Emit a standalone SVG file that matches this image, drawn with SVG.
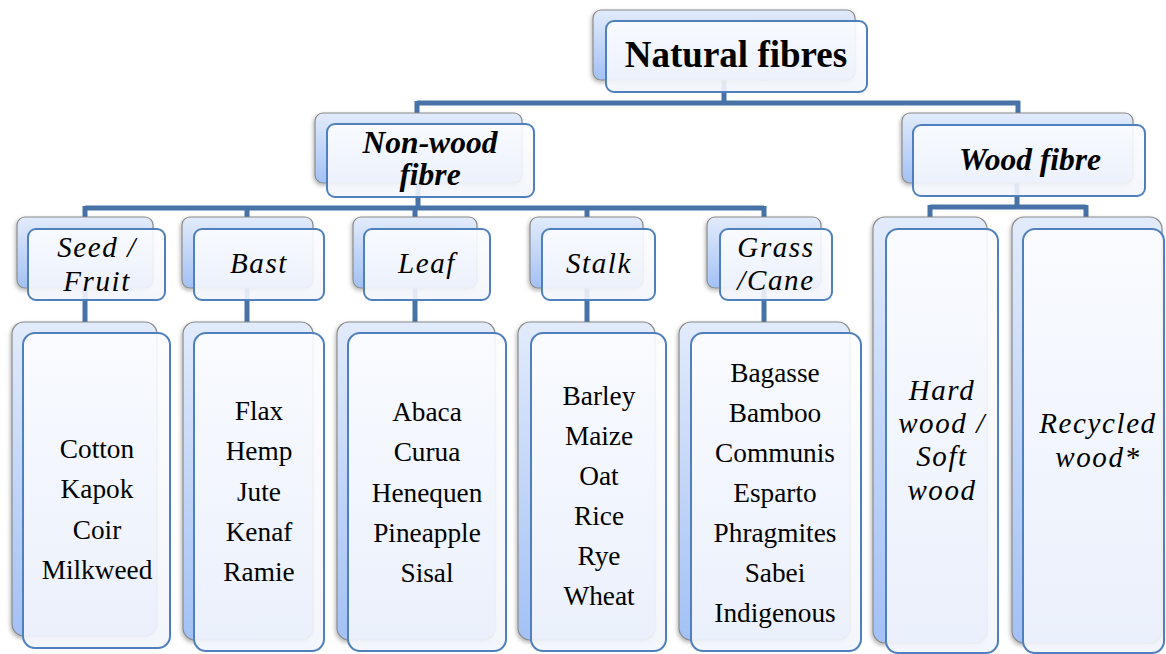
<svg xmlns="http://www.w3.org/2000/svg" width="1166" height="654" viewBox="0 0 1166 654">
  <defs>
    <linearGradient id="backFill" x1="0" y1="0" x2="0" y2="1">
      <stop offset="0" stop-color="#e2ebfb"/>
      <stop offset="1" stop-color="#a3c1f5"/>
    </linearGradient>
    <linearGradient id="frontFill" x1="0" y1="0" x2="0" y2="1">
      <stop offset="0" stop-color="#fcfdff"/>
      <stop offset="1" stop-color="#f2f5fc"/>
    </linearGradient>
    <filter id="shade" x="-20%" y="-20%" width="140%" height="140%">
      <feDropShadow dx="-1" dy="2" stdDeviation="2" flood-color="#000" flood-opacity="0.3"/>
    </filter>
  </defs>
  <style>
    .back { fill: url(#backFill); stroke: #8a8a8a; stroke-width: 1.2; filter: url(#shade); }
    .front { fill: url(#frontFill); fill-opacity: 0.9; stroke: #4f80bd; stroke-width: 2; }
    .conn { fill: none; stroke: #4672a8; stroke-width: 5; stroke-linejoin: miter; }
    .title { font-family: "Liberation Serif", "Times New Roman", serif; font-weight: bold; font-size: 37px; fill: #000; text-anchor: middle; }
    .group { font-family: "Liberation Serif", "Times New Roman", serif; font-weight: bold; font-style: italic; font-size: 31.5px; fill: #000; text-anchor: middle; }
    .cat { font-family: "Liberation Serif", "Times New Roman", serif; font-style: italic; font-size: 29px; letter-spacing: 1.6px; fill: #000; text-anchor: middle; }
    .item { font-family: "Liberation Serif", "Times New Roman", serif; font-size: 27.3px; fill: #000; text-anchor: middle; }
  </style>

  <rect width="1166" height="654" fill="#ffffff"/>

  <!-- connectors (behind the boxes) -->
  <g id="connectors">
    <path class="conn" d="M724 80 V103 M417 103 H1020 M417 101 V113 M1018 101 V113"/>
    <path class="conn" d="M418 183 V208 M85 208 H764 M85 206 V217 M247 206 V217 M415 206 V217 M587 206 V217 M764 206 V217"/>
    <path class="conn" d="M1017 183 V207 M930 207 H1086 M930 205 V217 M1086 205 V217"/>
    <path class="conn" d="M85 288 V322 M247 288 V322 M415 288 V322 M587 288 V322 M764 288 V322"/>
  </g>

  <!-- root -->
  <g id="natural-fibres">
    <rect class="back" x="593" y="10" width="262" height="70" rx="8"/>
    <rect class="front" x="606" y="21" width="261" height="71" rx="8"/>
    <text class="title" x="736" y="67">Natural fibres</text>
  </g>

  <!-- second level -->
  <g id="non-wood-fibre">
    <rect class="back" x="315" y="113" width="207" height="70" rx="8"/>
    <rect class="front" x="327" y="124" width="207" height="73" rx="8"/>
    <text class="group" x="430" y="153">Non-wood</text>
    <text class="group" x="430" y="185">fibre</text>
  </g>
  <g id="wood-fibre">
    <rect class="back" x="902" y="113" width="231" height="70" rx="8"/>
    <rect class="front" x="913" y="125" width="232" height="71" rx="8"/>
    <text class="group" x="1030" y="170">Wood fibre</text>
  </g>

  <!-- non-wood categories -->
  <g id="seed-fruit">
    <rect class="back" x="17" y="217" width="136" height="71" rx="8"/>
    <rect class="front" x="28" y="229" width="137" height="71" rx="8"/>
    <text class="cat" x="97" y="257">Seed /</text>
    <text class="cat" x="97" y="291">Fruit</text>
  </g>
  <g id="bast">
    <rect class="back" x="182" y="217" width="131" height="71" rx="8"/>
    <rect class="front" x="194" y="229" width="130" height="71" rx="8"/>
    <text class="cat" x="259" y="273">Bast</text>
  </g>
  <g id="leaf">
    <rect class="back" x="353" y="217" width="124" height="71" rx="8"/>
    <rect class="front" x="364" y="229" width="126" height="71" rx="8"/>
    <text class="cat" x="427" y="273">Leaf</text>
  </g>
  <g id="stalk">
    <rect class="back" x="530" y="217" width="113" height="71" rx="8"/>
    <rect class="front" x="542" y="229" width="113" height="71" rx="8"/>
    <text class="cat" x="599" y="273">Stalk</text>
  </g>
  <g id="grass-cane">
    <rect class="back" x="707" y="217" width="114" height="71" rx="8"/>
    <rect class="front" x="720" y="229" width="112" height="71" rx="8"/>
    <text class="cat" x="776" y="257">Grass</text>
    <text class="cat" x="776" y="290">/Cane</text>
  </g>

  <!-- non-wood examples -->
  <g id="seed-fruit-list">
    <rect class="back" x="12" y="322" width="145" height="314" rx="12"/>
    <rect class="front" x="23" y="333" width="147" height="315" rx="12"/>
    <text class="item" x="97" y="458">Cotton</text>
    <text class="item" x="97" y="498">Kapok</text>
    <text class="item" x="97" y="539">Coir</text>
    <text class="item" x="97" y="579">Milkweed</text>
  </g>
  <g id="bast-list">
    <rect class="back" x="183" y="322" width="130" height="318" rx="12"/>
    <rect class="front" x="194" y="333" width="130" height="318" rx="12"/>
    <text class="item" x="259" y="420">Flax</text>
    <text class="item" x="259" y="460">Hemp</text>
    <text class="item" x="259" y="501">Jute</text>
    <text class="item" x="259" y="541">Kenaf</text>
    <text class="item" x="259" y="581">Ramie</text>
  </g>
  <g id="leaf-list">
    <rect class="back" x="337" y="322" width="158" height="318" rx="12"/>
    <rect class="front" x="348" y="333" width="158" height="318" rx="12"/>
    <text class="item" x="427" y="421">Abaca</text>
    <text class="item" x="427" y="461">Curua</text>
    <text class="item" x="427" y="502">Henequen</text>
    <text class="item" x="427" y="542">Pineapple</text>
    <text class="item" x="427" y="582">Sisal</text>
  </g>
  <g id="stalk-list">
    <rect class="back" x="518" y="322" width="137" height="318" rx="12"/>
    <rect class="front" x="531" y="333" width="135" height="318" rx="12"/>
    <text class="item" x="599" y="405">Barley</text>
    <text class="item" x="599" y="445">Maize</text>
    <text class="item" x="599" y="485">Oat</text>
    <text class="item" x="599" y="525">Rice</text>
    <text class="item" x="599" y="565">Rye</text>
    <text class="item" x="599" y="605">Wheat</text>
  </g>
  <g id="grass-cane-list">
    <rect class="back" x="679" y="322" width="171" height="318" rx="12"/>
    <rect class="front" x="691" y="333" width="170" height="318" rx="12"/>
    <text class="item" x="775" y="382">Bagasse</text>
    <text class="item" x="775" y="422">Bamboo</text>
    <text class="item" x="775" y="462">Communis</text>
    <text class="item" x="775" y="502">Esparto</text>
    <text class="item" x="775" y="542">Phragmites</text>
    <text class="item" x="775" y="582">Sabei</text>
    <text class="item" x="775" y="622">Indigenous</text>
  </g>

  <!-- wood categories -->
  <g id="hard-soft-wood">
    <rect class="back" x="873" y="217" width="114" height="426" rx="12"/>
    <rect class="front" x="886" y="229" width="112" height="424" rx="12"/>
    <text class="cat" x="942" y="400">Hard</text>
    <text class="cat" x="942" y="433">wood /</text>
    <text class="cat" x="942" y="466">Soft</text>
    <text class="cat" x="942" y="500">wood</text>
  </g>
  <g id="recycled-wood">
    <rect class="back" x="1012" y="217" width="150" height="426" rx="12"/>
    <rect class="front" x="1023" y="229" width="141" height="424" rx="12"/>
    <text class="cat" x="1098" y="433">Recycled</text>
    <text class="cat" x="1098" y="467">wood*</text>
  </g>
</svg>
